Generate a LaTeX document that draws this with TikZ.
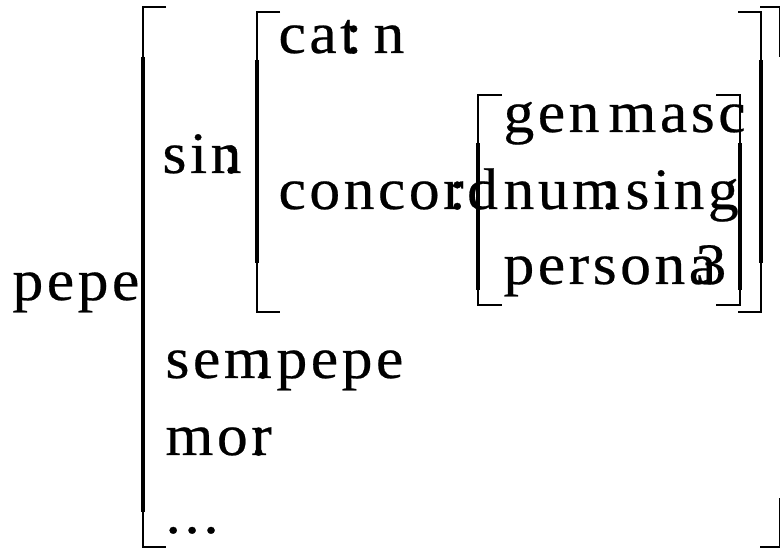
\documentclass[tikz,border=0pt]{standalone}
\usepackage{fontspec}
\setmainfont{Liberation Serif}[FakeStretch=1.05,LetterSpace=6,FakeBold=0.4]

\tikzset{every picture/.style={line width=0.75pt}}

\begin{document}
\begin{tikzpicture}[x=0.75pt,y=0.75pt,yscale=-1,xscale=1,
  lbl/.style={anchor=base west,inner sep=0pt,font=\fontsize{44}{46}\selectfont},
  brthin/.style={line width=1.1pt},
  brthick/.style={line width=2.4pt}]
	\useasboundingbox (0,0) rectangle (781,548);

	%Shape: Bracket (outer, left)
	\draw [brthin]  (166,7) -- (143,7) -- (143,547) -- (166,547) ;
	\draw [brthick]  (143,57) -- (143,512) ;
	%Shape: Bracket (outer, right)
	\draw [brthin]  (760,7) -- (779.5,7) -- (779.5,57) ;
	\draw [brthin]  (779.5,498) -- (779.5,547) -- (760,547) ;

	%Shape: Bracket (sin, left)
	\draw [brthin]  (280,12) -- (257,12) -- (257,312) -- (280,312) ;
	\draw [brthick]  (257,60) -- (257,263) ;
	%Shape: Bracket (sin, right)
	\draw [brthin]  (738,12) -- (761,12) -- (761,312) -- (738,312) ;
	\draw [brthick]  (761,60) -- (761,263) ;

	%Shape: Bracket (concord, left)
	\draw [brthin]  (502,95) -- (478,95) -- (478,305) -- (502,305) ;
	\draw [brthick]  (478,143) -- (478,290) ;
	%Shape: Bracket (concord, right)
	\draw [brthin]  (716,95) -- (740,95) -- (740,305) -- (716,305) ;
	\draw [brthick]  (740,143) -- (740,290) ;

	% Text Node
	\draw (12,300) node[lbl] (pepe) {pepe};
	% Text Node
	\draw (162,173) node[lbl] (sin) {sin\kern-.32em:};
	% Text Node
	\draw (278,53) node[lbl] (cat) {cat\kern-.21em:};
	% Text Node
	\draw (373,53) node[lbl] (catval) {n};
	% Text Node
	\draw (278,209) node[lbl] (concord) {concord\kern-.84em:};
	% Text Node
	\draw (503,132) node[lbl] (gen) {gen};
	% Text Node
	\draw (608,132) node[lbl] (genval) {masc};
	% Text Node
	\draw (503,209) node[lbl] (num) {num\kern-.33em:};
	% Text Node
	\draw (625,209) node[lbl] (numval) {sing};
	% Text Node
	\draw (503,284) node[lbl] (persona) {persona};
	% Text Node
	\draw (695,284) node[lbl] (personaval) {3};
	% Text Node
	\draw (165,378) node[lbl] (sem) {sem\kern-.3em:};
	% Text Node
	\draw (276,378) node[lbl] (semval) {pepe};
	% Text Node
	\draw (165,455) node[lbl] (mor) {mor\kern-.37em:};
	% Text Node
	\draw (165,533) node[lbl] (etc) {...};

\end{tikzpicture}
\end{document}
